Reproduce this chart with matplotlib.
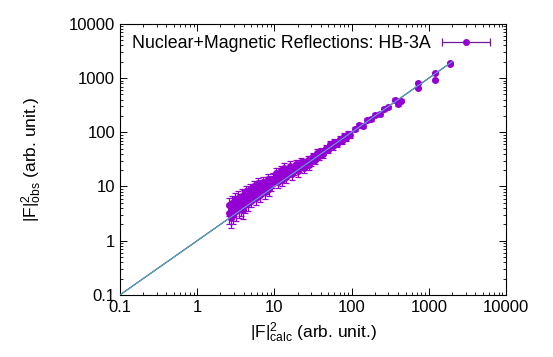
import numpy as np
import matplotlib
matplotlib.use("Agg")
import matplotlib.pyplot as plt
from matplotlib.ticker import FixedLocator, FixedFormatter, LogLocator, NullFormatter
from matplotlib.container import ErrorbarContainer
from matplotlib.legend_handler import HandlerErrorbar

plt.rcParams['font.family'] = ['Liberation Sans', 'DejaVu Sans']
plt.rcParams['mathtext.fontset'] = 'custom'
plt.rcParams['mathtext.rm'] = 'Liberation Sans'
plt.rcParams['mathtext.it'] = 'Liberation Sans'

# |F|^2 calc, |F|^2 obs, error on obs
calc = [2.6, 2.6, 2.7, 2.7, 2.8, 2.9, 3.0, 3.1, 3.2, 3.3, 3.4, 3.5, 3.6, 3.7, 3.8, 3.9,
        4.0, 4.1, 4.2, 4.3, 4.5, 4.6, 4.8, 4.9, 5.0, 5.2, 5.4, 5.5, 5.7, 5.9, 6.0, 6.2,
        6.5, 6.7, 7.0, 7.2, 7.5, 7.8, 8.0, 8.3, 8.6, 9.0, 9.3, 9.6,
        10.0, 10.5, 11.0, 11.5, 12.0, 12.5, 13.0, 13.5, 14.0, 15.0, 16.0, 17.0, 18.0,
        19.0, 20.0, 21.0, 22.0, 24.0, 25.0, 27.0, 28.0, 30.0,
        32.0, 34.0, 36.0, 38.0, 40.0, 43.0, 46.0, 50.0, 53.0, 57.0, 60.0, 65.0, 70.0,
        75.0, 80.0, 85.0, 90.0, 95.0,
        110.0, 125.0, 140.0, 160.0, 180.0, 200.0, 230.0, 260.0, 300.0, 360.0, 400.0, 430.0,
        720.0, 730.0, 1200.0, 1210.0, 1880.0, 1900.0]
obs = [3.2, 4.5, 2.6, 3.8, 5.0, 3.0, 4.2, 5.8, 3.5, 4.8, 6.2, 3.9, 5.5, 4.4, 6.8, 3.7,
       7.0, 4.5, 5.8, 8.2, 6.0, 4.9, 7.5, 9.0, 5.5, 6.8, 8.4, 10.2, 6.2, 7.9, 9.5, 11.5,
       7.0, 8.8, 10.5, 12.0, 8.0, 9.7, 11.8, 13.5, 9.0, 10.8, 12.5, 14.0,
       14.0, 18.0, 12.0, 16.0, 20.0, 13.0, 17.0, 22.0, 15.0, 19.0, 24.0, 17.0, 21.0,
       26.0, 19.0, 23.0, 28.0, 22.0, 27.0, 31.0, 25.0, 30.0,
       36.0, 31.0, 42.0, 37.0, 45.0, 40.0, 52.0, 48.0, 60.0, 55.0, 66.0, 62.0, 75.0,
       70.0, 86.0, 80.0, 95.0, 90.0,
       115.0, 135.0, 130.0, 170.0, 175.0, 210.0, 220.0, 270.0, 290.0, 400.0, 330.0, 380.0,
       810.0, 665.0, 1250.0, 930.0, 1900.0, 1820.0]
err = [1.2, 1.6, 0.9, 1.3, 1.7, 1.0, 1.4, 1.9, 1.2, 1.6, 2.0, 1.3, 1.8, 1.5, 2.1, 1.2,
       1.8, 1.2, 1.5, 2.0, 1.5, 1.3, 1.9, 2.2, 1.4, 1.7, 2.1, 2.5, 1.6, 2.0, 2.3, 2.8,
       1.8, 2.2, 2.6, 3.0, 2.0, 2.4, 2.9, 3.3, 2.2, 2.7, 3.1, 3.4,
       3.0, 3.8, 2.6, 3.4, 4.2, 2.8, 3.6, 4.6, 3.2, 4.0, 5.0, 3.6, 4.4,
       5.2, 3.9, 4.7, 5.6, 4.4, 5.4, 6.0, 5.0, 5.8,
       5.5, 5.0, 6.3, 5.6, 6.5, 6.0, 7.5, 7.0, 8.5, 7.8, 9.0, 8.5, 10.0,
       9.5, 11.0, 10.0, 12.0, 11.0,
       10.0, 12.0, 11.0, 14.0, 14.0, 16.0, 17.0, 20.0, 21.0, 26.0, 22.0, 25.0,
       40.0, 35.0, 55.0, 45.0, 70.0, 65.0]

line_x = [0.1, 2000.0]

fig = plt.figure(figsize=(5.53, 3.57), dpi=100)
ax = fig.add_axes([0.217, 0.174, 0.698, 0.759])
ax.set_xscale('log')
ax.set_yscale('log')

ax.plot(line_x, line_x, color='black', lw=0.8, zorder=2)
ax.plot(line_x, line_x, color='#55b8e0', lw=0.7, zorder=4)

pc = '#9400d3'
main = ax.errorbar(calc, obs, yerr=err, fmt='o', color=pc, ecolor=pc, ms=4,
                   elinewidth=0.9, capsize=2.5, capthick=0.9, zorder=3)
for cap in main[1]:
    cap.set_color('#4a1a6a')

# proxy for the legend (horizontal error bar symbol), removed from the axes
proxy = ax.errorbar([1.0], [1.0], xerr=[0.5], fmt='o', color=pc,
                    ecolor='#6a1b9a', ms=4, elinewidth=0.9, capsize=3, capthick=0.9,
                    label='Nuclear+Magnetic Reflections: HB-3A')
for art in proxy.get_children():
    art.remove()
fs_leg = 12.8
ax.legend(handles=[proxy], loc='upper left', frameon=False, markerfirst=False,
          handlelength=2.8, fontsize=fs_leg, borderaxespad=0.25, handletextpad=0.6,
          handler_map={ErrorbarContainer: HandlerErrorbar(xerr_size=1.35)})

ax.set_xlim(0.1, 10000)
ax.set_ylim(0.1, 10000)
ticks = [0.1, 1, 10, 100, 1000, 10000]
labels = ['0.1', '1', '10', '100', '1000', '10000']
for axis in (ax.xaxis, ax.yaxis):
    axis.set_major_locator(FixedLocator(ticks))
    axis.set_major_formatter(FixedFormatter(labels))
    axis.set_minor_locator(LogLocator(base=10, subs=np.arange(2, 10)))
    axis.set_minor_formatter(NullFormatter())
ax.tick_params(which='both', direction='in', top=True, right=True, labelsize=12)
ax.tick_params(which='major', length=5, width=0.7)
ax.tick_params(which='minor', length=2.5, width=0.6)
for s in ax.spines.values():
    s.set_linewidth(0.8)

ax.set_xlabel(r'|F|$^{2}_{\rm calc}$ (arb. unit.)', fontsize=12.5, labelpad=4)
ax.set_ylabel(r'|F|$^{2}_{\rm obs}$ (arb. unit.)', fontsize=12.5, labelpad=18)

fig.savefig('out.png', dpi=100)
